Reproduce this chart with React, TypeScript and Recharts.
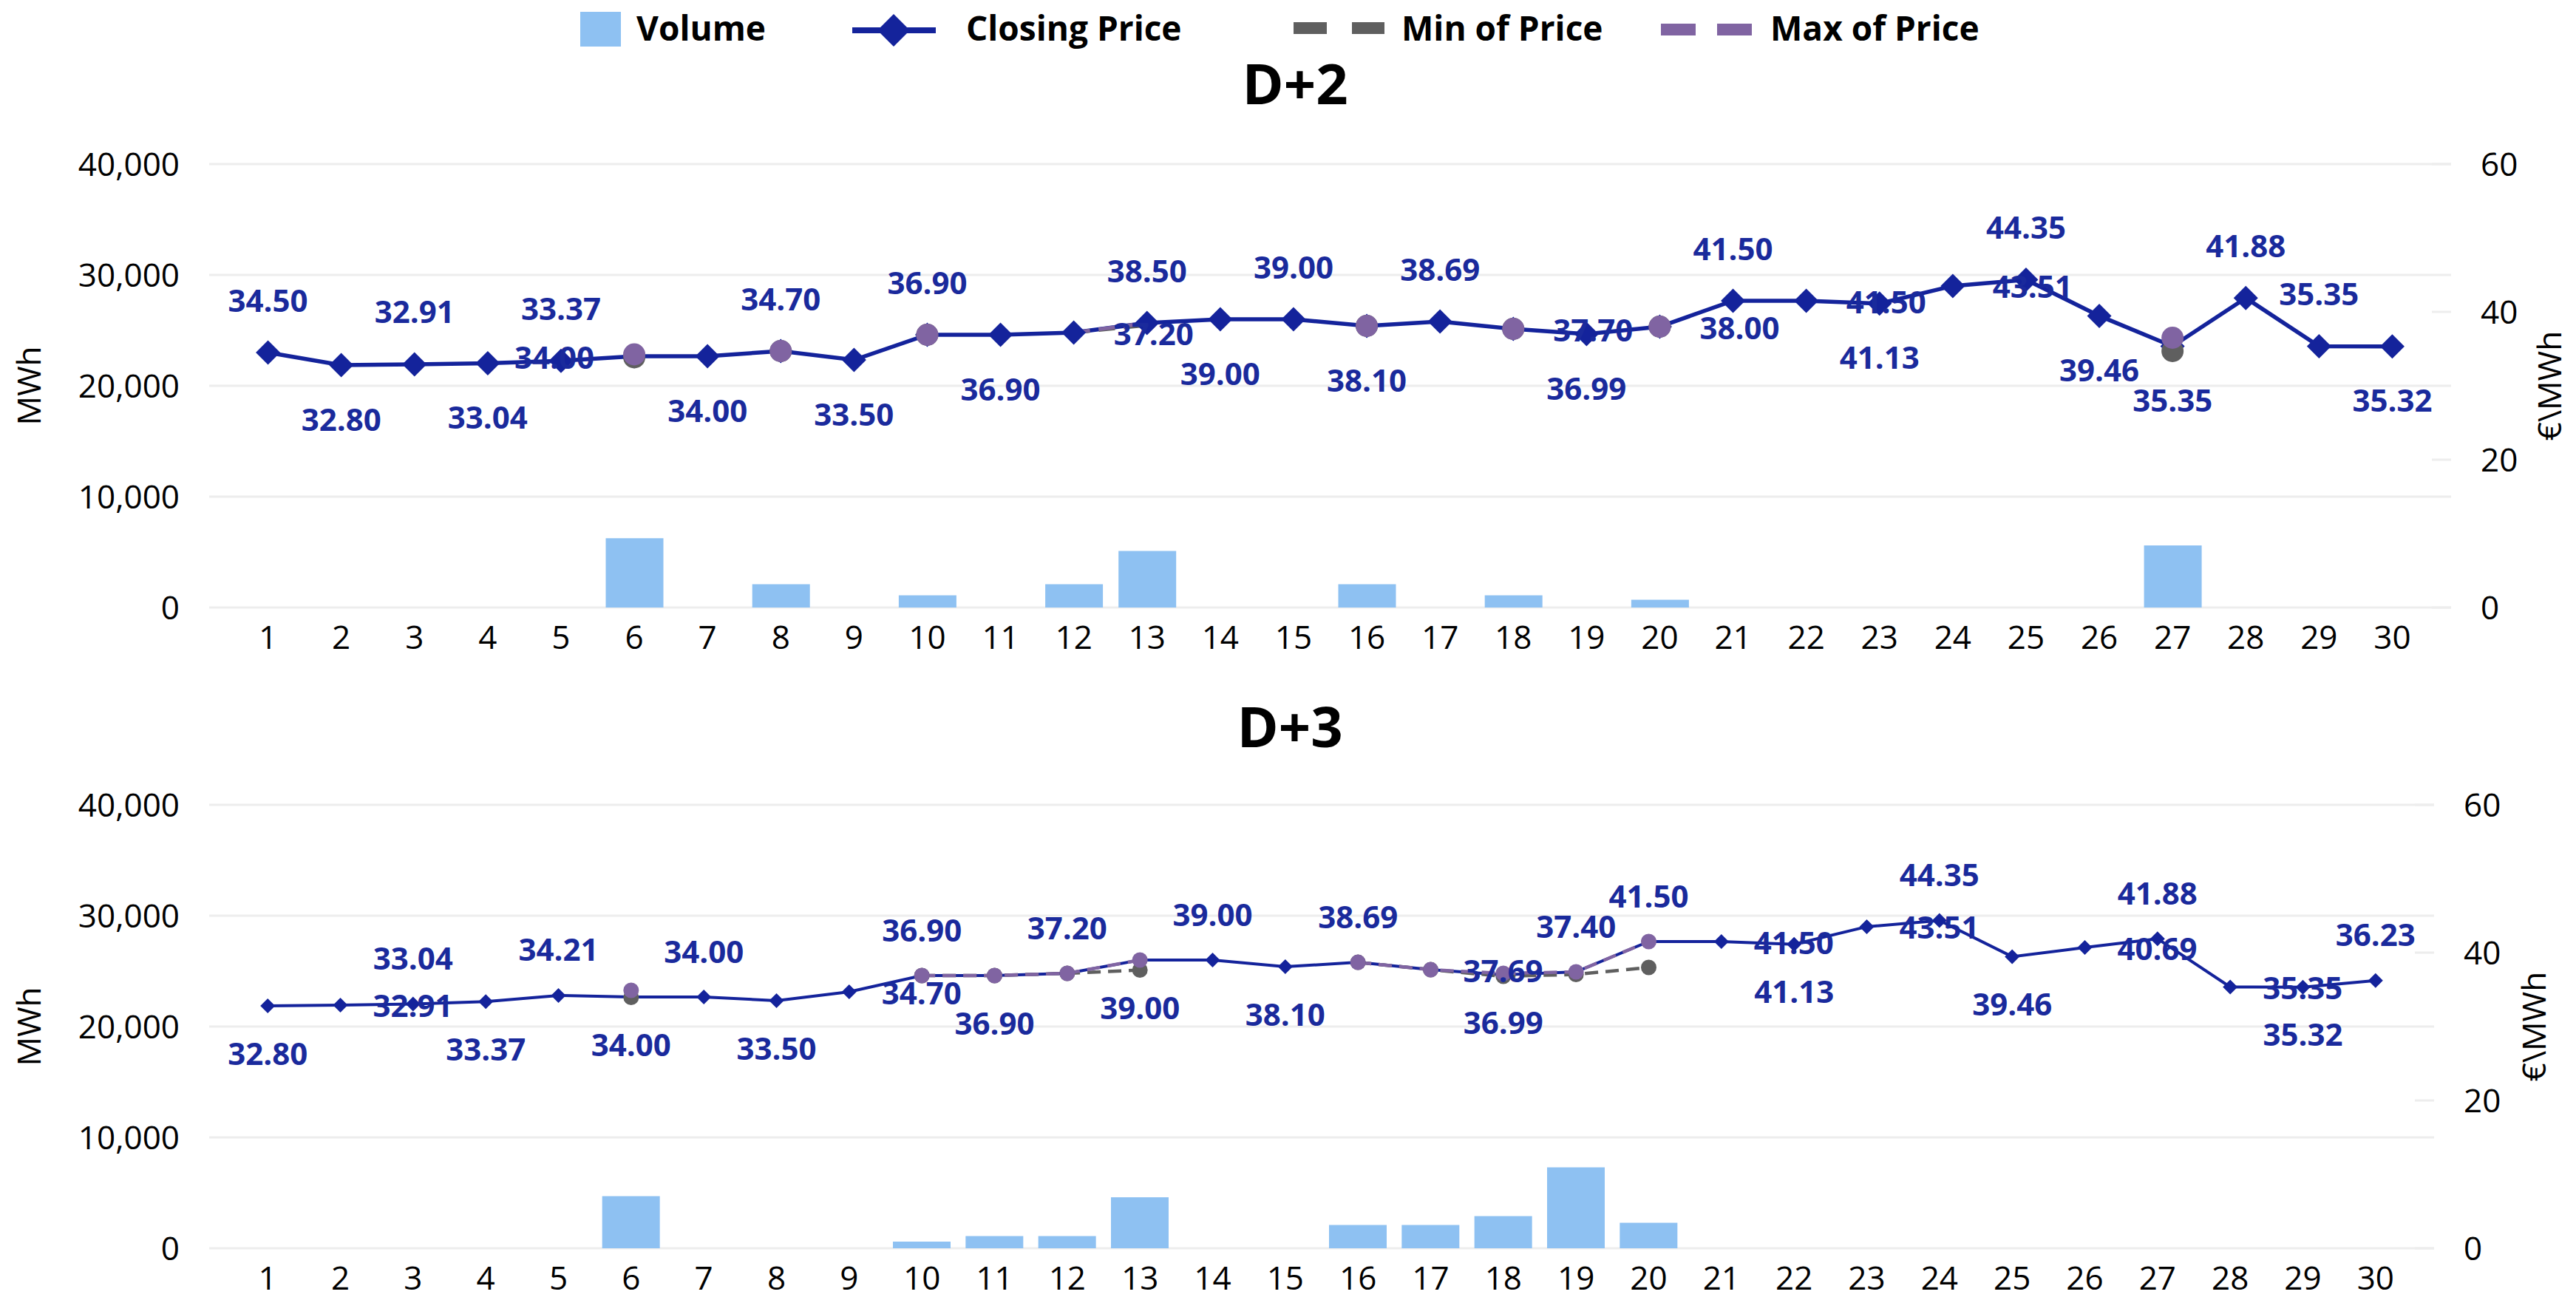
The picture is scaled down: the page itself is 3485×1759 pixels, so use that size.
import React from 'react';
import { ComposedChart, Bar, Line, XAxis, YAxis, CartesianGrid, LabelList } from 'recharts';

const FONT = '"Segoe UI", "Open Sans", "Noto Sans", sans-serif';
const BAR_COLOR = '#8EC1F2';
const CLOSE_COLOR = '#14239B';
const LABEL_COLOR = '#1A2A9C';
const MIN_COLOR = '#5F5F5F';
const MAX_COLOR = '#8064A2';
const GRID_COLOR = '#EDEDED';

const dayLabels = [
  '1', '2', '3', '4', '5', '6', '7', '8', '9', '10',
  '11', '12', '13', '14', '15', '16', '17', '18', '19', '20',
  '21', '22', '23', '24', '25', '26', '27', '28', '29', '30',
];
const volumeTicks = [0, 10000, 20000, 30000, 40000];
const priceTicks = [0, 20, 40, 60];

// D+2
const d2Volume = [0, 0, 0, 0, 0, 6250, 0, 2100, 0, 1100, 0, 2100, 5100, 0, 0, 2100, 0, 1100, 0, 700, 0, 0, 0, 0, 0, 0, 5600, 0, 0, 0];
const d2Close = [34.5, 32.8, 32.91, 33.04, 33.37, 34.0, 34.0, 34.7, 33.5, 36.9, 36.9, 37.2, 38.5, 39.0, 39.0, 38.1, 38.69, 37.7, 36.99, 38.0, 41.5, 41.5, 41.13, 43.51, 44.35, 39.46, 35.35, 41.88, 35.35, 35.32];
const d2Min = [null, null, null, null, null, 33.85, null, 34.7, null, 36.9, null, 37.2, 38.2, null, null, 38.1, null, 37.7, null, 38.0, null, null, null, null, null, null, 34.7, null, null, null];
const d2Max = [null, null, null, null, null, 34.25, null, 34.7, null, 36.9, null, 37.2, 38.5, null, null, 38.1, null, 37.7, null, 38.0, null, null, null, null, null, null, 36.5, null, null, null];
const d2LabelBelow = [2, 4, 7, 9, 11, 14, 16, 19, 23, 26, 27, 30];
const d2LabelRight = [12, 18, 20, 22, 24];
const d2LabelLeft = [6];
const d2NoMarker = [12, 13];

// D+3
const d3Volume = [0, 0, 0, 0, 0, 4700, 0, 0, 0, 600, 1100, 1100, 4600, 0, 0, 2100, 2100, 2900, 7300, 2300, 0, 0, 0, 0, 0, 0, 0, 0, 0, 0];
const d3Close = [32.8, 32.91, 33.04, 33.37, 34.21, 34.0, 34.0, 33.5, 34.7, 36.9, 36.9, 37.2, 39.0, 39.0, 38.1, 38.69, 37.69, 36.99, 37.4, 41.5, 41.5, 41.13, 43.51, 44.35, 39.46, 40.69, 41.88, 35.35, 35.32, 36.23];
const d3Min = [null, null, null, null, null, 33.95, null, null, null, 36.9, 36.9, 37.2, 37.65, null, null, 38.69, 37.69, 36.8, 37.05, 38.0, null, null, null, null, null, null, null, null, null, null];
const d3Max = [null, null, null, null, null, 34.9, null, null, null, 36.9, 36.9, 37.2, 39.0, null, null, 38.69, 37.69, 37.2, 37.4, 41.5, null, null, null, null, null, null, null, null, null, null];
const d3LabelBelow = [1, 4, 6, 8, 11, 13, 15, 18, 22, 25, 29];
const d3LabelRight = [2, 9, 17, 21, 23, 26, 28];
const d3LabelLeft: number[] = [];
const d3NoMarker: number[] = [];

type Opts = {
  title: string;
  top: number;
  height: number;
  marginTop: number;
  marginBottom: number;
  rightWidth: number;
  volume: number[];
  close: number[];
  min: (number | null)[];
  max: (number | null)[];
  below: number[];
  right: number[];
  left: number[];
  noMarker: number[];
  diamond: number;
  circle: number;
  lineWidth: number;
  dashWidth: number;
  dash: string;
  vGap: number;
  hGap: number;
  titleX: number;
  titleY: number;
  yTitleY: number;
  rightTitleX: number;
};

function PriceChart(o: Opts) {
  const rows = dayLabels.map((day, i) => ({
    day,
    volume: o.volume[i],
    close: o.close[i],
    min: o.min[i],
    max: o.max[i],
  }));

  const diamondDot = (p: any) => {
    const { cx, cy, index } = p;
    if (cx == null || cy == null) return <g key={`dm-${index}`} />;
    const s = o.diamond;
    return (
      <polygon
        key={`dm-${index}`}
        points={`${cx},${cy - s} ${cx + s},${cy} ${cx},${cy + s} ${cx - s},${cy}`}
        fill={CLOSE_COLOR}
      />
    );
  };

  const circleDot = (color: string) => (p: any) => {
    const { cx, cy, index } = p;
    if (cx == null || cy == null || p.value == null || o.noMarker.includes(index + 1)) {
      return <g key={`c-${color}-${index}`} />;
    }
    return <circle key={`c-${color}-${index}`} cx={cx} cy={cy} r={o.circle} fill={color} />;
  };

  // closing price labels sit above, below, left or right of the point
  const priceLabel = (p: any) => {
    const x = p.x ?? p.viewBox?.x;
    const y = p.y ?? p.viewBox?.y;
    const index = p.index;
    if (x == null || y == null) return null;
    const day = index + 1;
    let tx = x;
    let ty = y;
    let anchor: 'middle' | 'start' | 'end' = 'middle';
    if (o.right.includes(day)) {
      tx = x + o.hGap;
      anchor = 'start';
    } else if (o.left.includes(day)) {
      tx = x - o.hGap;
      anchor = 'end';
    } else if (o.below.includes(day)) {
      ty = y + o.vGap;
    } else {
      ty = y - o.vGap;
    }
    return (
      <text
        key={`lbl-${index}`}
        x={tx}
        y={ty}
        textAnchor={anchor}
        dominantBaseline="central"
        fill={LABEL_COLOR}
        fontSize={42}
        fontWeight={700}
        fontFamily={FONT}
      >
        {Number(p.value).toFixed(2)}
      </text>
    );
  };

  const axisTitle: React.CSSProperties = {
    position: 'absolute',
    transform: 'translate(-50%, -50%) rotate(-90deg)',
    whiteSpace: 'nowrap',
    fontSize: 44,
    lineHeight: 1,
    color: '#000',
  };

  return (
    <>
      <div
        style={{
          position: 'absolute',
          left: o.titleX,
          top: o.titleY,
          transform: 'translate(-50%, -50%)',
          fontSize: 76,
          fontWeight: 700,
          lineHeight: 1,
          whiteSpace: 'nowrap',
        }}
      >
        {o.title}
      </div>
      <div style={{ ...axisTitle, left: 38, top: o.yTitleY }}>MWh</div>
      <div style={{ ...axisTitle, left: o.rightTitleX, top: o.yTitleY }}>€\MWh</div>
      <div style={{ position: 'absolute', left: 0, top: o.top }}>
        <ComposedChart
          width={3485}
          height={o.height}
          data={rows}
          margin={{ top: o.marginTop, right: 0, bottom: o.marginBottom, left: 0 }}
        >
          <CartesianGrid vertical={false} stroke={GRID_COLOR} strokeWidth={3} yAxisId="vol" />
          <XAxis
            dataKey="day"
            interval={0}
            axisLine={false}
            tickLine={false}
            tickSize={0}
            tickMargin={25}
            height={60}
            padding={{ left: 30, right: 30 }}
            tick={{ fontSize: 44, fill: '#000', fontFamily: FONT }}
          />
          <YAxis
            yAxisId="vol"
            orientation="left"
            width={283}
            domain={[0, 40000]}
            ticks={volumeTicks}
            axisLine={false}
            tickLine={false}
            tickSize={0}
            tickMargin={40}
            tickFormatter={(v: number) => v.toLocaleString('en-US')}
            tick={{ fontSize: 44, fill: '#000', fontFamily: FONT }}
          />
          <YAxis
            yAxisId="price"
            orientation="right"
            width={o.rightWidth}
            domain={[0, 60]}
            ticks={priceTicks}
            axisLine={false}
            tickLine={{ stroke: GRID_COLOR, strokeWidth: 3 }}
            tickSize={-26}
            tickMargin={66}
            tick={{ fontSize: 44, fill: '#000', fontFamily: FONT, textAnchor: 'start' }}
          />
          <Bar yAxisId="vol" dataKey="volume" fill={BAR_COLOR} barSize={78} isAnimationActive={false} />
          <Line
            yAxisId="price"
            dataKey="close"
            stroke={CLOSE_COLOR}
            strokeWidth={o.lineWidth}
            dot={diamondDot}
            activeDot={false}
            isAnimationActive={false}
          />
          <Line
            yAxisId="price"
            dataKey="min"
            stroke={MIN_COLOR}
            strokeWidth={o.dashWidth}
            strokeDasharray={o.dash}
            dot={circleDot(MIN_COLOR)}
            activeDot={false}
            isAnimationActive={false}
          />
          <Line
            yAxisId="price"
            dataKey="max"
            stroke={MAX_COLOR}
            strokeWidth={o.dashWidth}
            strokeDasharray={o.dash}
            dot={circleDot(MAX_COLOR)}
            activeDot={false}
            isAnimationActive={false}
          />
          <Line
            yAxisId="price"
            dataKey="close"
            stroke="none"
            dot={false}
            activeDot={false}
            legendType="none"
            isAnimationActive={false}
          >
            <LabelList dataKey="close" content={priceLabel} />
          </Line>
        </ComposedChart>
      </div>
    </>
  );
}

function TopLegend() {
  const textStyle = { fontSize: 46, fontWeight: 700, fontFamily: FONT, fill: '#000' };
  return (
    <svg width={3485} height={90} style={{ position: 'absolute', left: 0, top: 0 }}>
      <rect x={785} y={16} width={55} height={47} fill={BAR_COLOR} />
      <text x={861} y={55} {...textStyle}>Volume</text>
      <line x1={1153} y1={41} x2={1266} y2={41} stroke={CLOSE_COLOR} strokeWidth={8} />
      <polygon points="1209,19 1231,41 1209,63 1187,41" fill={CLOSE_COLOR} />
      <text x={1307} y={55} {...textStyle}>Closing Price</text>
      <line x1={1750} y1={38} x2={1873} y2={38} stroke={MIN_COLOR} strokeWidth={16} strokeDasharray="45 34" />
      <text x={1896} y={55} {...textStyle}>Min of Price</text>
      <line x1={2247} y1={40} x2={2374} y2={40} stroke={MAX_COLOR} strokeWidth={16} strokeDasharray="47 29" />
      <text x={2395} y={55} {...textStyle}>Max of Price</text>
    </svg>
  );
}

export default function App() {
  return (
    <div
      style={{
        position: 'absolute',
        left: 0,
        top: 0,
        width: 3485,
        height: 1759,
        background: '#fff',
        fontFamily: FONT,
        overflow: 'hidden',
      }}
    >
      <TopLegend />
      <PriceChart
        title="D+2"
        top={0}
        height={900}
        marginTop={222}
        marginBottom={18}
        rightWidth={169}
        volume={d2Volume}
        close={d2Close}
        min={d2Min}
        max={d2Max}
        below={d2LabelBelow}
        right={d2LabelRight}
        left={d2LabelLeft}
        noMarker={d2NoMarker}
        diamond={16.5}
        circle={15}
        lineWidth={5.5}
        dashWidth={5}
        dash="22 12"
        vGap={72}
        hGap={54}
        titleX={1752}
        titleY={112}
        yTitleY={522}
        rightTitleX={3448}
      />
      <PriceChart
        title="D+3"
        top={900}
        height={859}
        marginTop={189}
        marginBottom={10}
        rightWidth={192}
        volume={d3Volume}
        close={d3Close}
        min={d3Min}
        max={d3Max}
        below={d3LabelBelow}
        right={d3LabelRight}
        left={d3LabelLeft}
        noMarker={d3NoMarker}
        diamond={10}
        circle={10.5}
        lineWidth={4}
        dashWidth={4.5}
        dash="18 10"
        vGap={63}
        hGap={44}
        titleX={1745}
        titleY={982}
        yTitleY={1389}
        rightTitleX={3427}
      />
    </div>
  );
}
